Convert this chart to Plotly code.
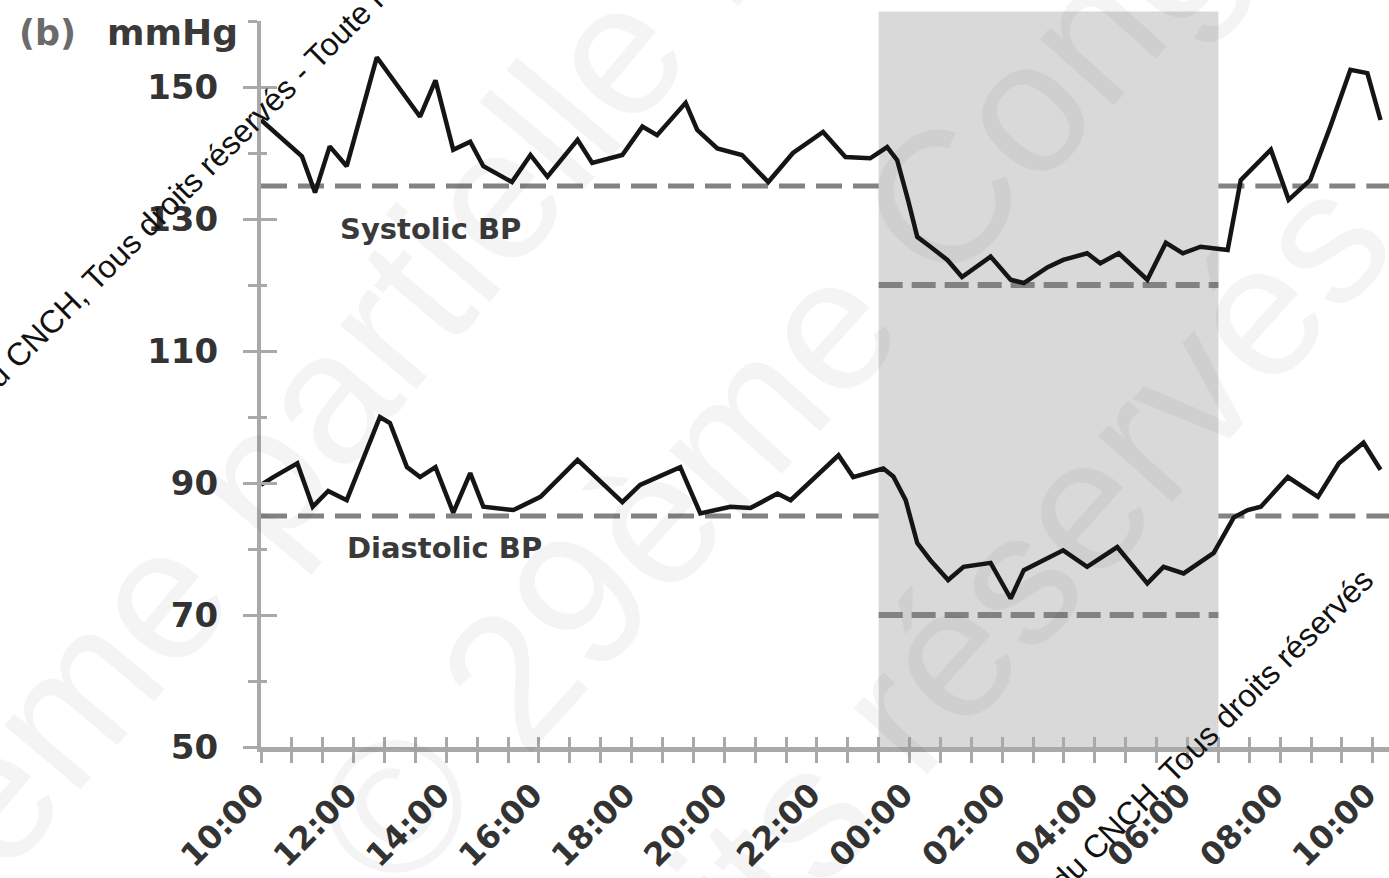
import plotly.graph_objects as go
from datetime import datetime, timedelta

# 24 h ambulatory blood pressure record, readings as clock time (HH:MM) and mmHg
sys_times = ["10:00", "10:29", "10:53", "11:10", "11:29", "11:51", "12:30", "13:26", "13:46",
             "14:09", "14:31", "14:48", "15:25", "15:49", "16:11", "16:50", "17:09", "17:48",
             "18:14", "18:33", "19:10", "19:25", "19:51", "20:23", "20:57", "21:29", "22:08",
             "22:37", "23:09", "23:31", "23:44", "23:58", "00:10", "00:27", "00:49", "01:08",
             "01:45", "02:11", "02:28", "02:59", "03:19", "03:50", "04:07", "04:31", "05:08",
             "05:32", "05:54", "06:17", "06:52", "07:09", "07:48", "08:11", "08:39", "09:05",
             "09:31", "09:53", "10:10"]
sys_values = [145.0, 142.0, 139.5, 134.0, 141.0, 138.0, 154.5, 145.5, 151.0,
              140.5, 141.7, 138.0, 135.6, 139.7, 136.4, 142.0, 138.5, 139.7,
              144.0, 142.7, 147.6, 143.5, 140.7, 139.7, 135.6, 140.0, 143.2,
              139.4, 139.2, 140.9, 138.9, 132.9, 127.3, 125.8, 123.8, 121.2,
              124.3, 120.8, 120.3, 122.7, 123.8, 124.8, 123.3, 124.8, 120.8,
              126.4, 124.8, 125.8, 125.3, 135.9, 140.5, 132.9, 135.9, 144.0,
              152.6, 152.1, 145.0]

dia_times = ["10:00", "10:16", "10:47", "11:07", "11:27", "11:51", "12:34", "12:47", "13:09",
             "13:26", "13:46", "14:09", "14:31", "14:48", "15:27", "16:02", "16:50", "17:48",
             "18:11", "19:03", "19:29", "20:08", "20:34", "21:09", "21:26", "22:28", "22:47",
             "23:26", "23:39", "23:55", "00:10", "00:27", "00:50", "01:10", "01:45", "02:11",
             "02:28", "03:19", "03:50", "04:29", "05:08", "05:29", "05:55", "06:34", "07:00",
             "07:18", "07:35", "08:10", "08:49", "09:16", "09:48", "10:10"]
dia_values = [89.7, 90.9, 93.0, 86.4, 88.8, 87.4, 100.0, 99.1, 92.4,
              90.9, 92.4, 85.5, 91.5, 86.4, 85.9, 87.9, 93.5, 87.1,
              89.7, 92.4, 85.4, 86.4, 86.2, 88.4, 87.4, 94.2, 90.9,
              92.2, 91.0, 87.4, 80.9, 78.3, 75.3, 77.3, 77.9, 72.5,
              76.8, 79.8, 77.3, 80.3, 74.8, 77.3, 76.3, 79.4, 84.8,
              85.9, 86.4, 90.9, 87.9, 93.0, 96.1, 92.0]

x_tick_labels = ["10:00", "12:00", "14:00", "16:00", "18:00", "20:00", "22:00",
                 "00:00", "02:00", "04:00", "06:00", "08:00", "10:00"]
y_tick_values = [50, 70, 90, 110, 130, 150]
y_minor_values = [60, 80, 100, 120, 140, 160]

night_period = ["23:20", "06:40"]
day_limits = {"Systolic BP": 135, "Diastolic BP": 85}
night_limits = {"Systolic BP": 120, "Diastolic BP": 70}

axis_end = "10:21"


def to_datetimes(times):
    """Clock strings -> datetimes on a record that starts at 10:00 and rolls past midnight."""
    out, day, prev = [], 0, None
    for s in times:
        h, m = map(int, s.split(":"))
        minutes = h * 60 + m
        if prev is not None and minutes < prev:
            day += 1
        prev = minutes
        out.append(datetime(2024, 1, 1, h, m) + timedelta(days=day))
    return out


sys_x = to_datetimes(sys_times)
dia_x = to_datetimes(dia_times)
tick_x = to_datetimes(x_tick_labels)
t_start = tick_x[0]
t_night0, t_night1 = to_datetimes(["10:00"] + night_period)[1:]
t_end = to_datetimes(["10:00", "22:00", axis_end])[2]

AXIS_GREY = "#a9a9a9"
DASH_GREY = "#828282"
TEXT = "#333333"
FONT = "DejaVu Sans"

fig = go.Figure()

# day / night threshold lines
for name in ("Systolic BP", "Diastolic BP"):
    for x0, x1 in ((t_start, t_night0), (t_night1, t_end)):
        fig.add_trace(go.Scatter(
            x=[x0, x1], y=[day_limits[name]] * 2, mode="lines",
            line=dict(color=DASH_GREY, width=5, dash="26px,11px"),
            hoverinfo="skip"))
    fig.add_trace(go.Scatter(
        x=[t_night0, t_night1], y=[night_limits[name]] * 2, mode="lines",
        line=dict(color=DASH_GREY, width=6, dash="24px,9px"),
        hoverinfo="skip"))

fig.add_trace(go.Scatter(x=sys_x, y=sys_values, mode="lines", name="Systolic BP",
                         line=dict(color="#151515", width=4.5)))
fig.add_trace(go.Scatter(x=dia_x, y=dia_values, mode="lines", name="Diastolic BP",
                         line=dict(color="#151515", width=4.5)))

# night-time band
fig.add_shape(type="rect", xref="x", yref="paper", x0=t_night0, x1=t_night1,
              y0=0, y1=1.013, fillcolor="#d9d9d9", line_width=0, layer="below")

tick_common = dict(tickcolor=AXIS_GREY, tickwidth=3, automargin=False)

fig.update_layout(
    width=1389, height=878,
    margin=dict(l=261, r=0, t=21, b=131, autoexpand=False),
    paper_bgcolor="white", plot_bgcolor="white",
    showlegend=False,
    xaxis=dict(
        type="date", range=[t_start, t_end],
        showline=True, linecolor=AXIS_GREY, linewidth=5,
        showgrid=False, zeroline=False,
        tickmode="array", tickvals=tick_x, ticktext=x_tick_labels,
        ticks="outside", ticklen=11, tickangle=-45, ticklabeloverflow="allow",
        ticklabelshift=-6,
        tickfont=dict(family=FONT, size=32, color=TEXT, weight="bold"),
        minor=dict(dtick=40 * 60 * 1000, tick0=t_start, ticks="outside",
                   ticklen=11, tickcolor=AXIS_GREY, tickwidth=3, showgrid=False),
        **tick_common),
    xaxis2=dict(
        type="date", range=[t_start, t_end], overlaying="x", anchor="y",
        showline=False, showgrid=False, zeroline=False, showticklabels=False,
        tickmode="array", tickvals=tick_x, ticks="inside", ticklen=10,
        minor=dict(dtick=40 * 60 * 1000, tick0=t_start, ticks="inside",
                   ticklen=10, tickcolor=AXIS_GREY, tickwidth=3, showgrid=False),
        **tick_common),
    yaxis=dict(
        range=[50, 160],
        showline=True, linecolor=AXIS_GREY, linewidth=4,
        showgrid=False, zeroline=False,
        tickmode="array", tickvals=y_tick_values,
        ticktext=[str(v) for v in y_tick_values],
        ticks="outside", ticklen=14, ticklabelstandoff=18, ticklabeloverflow="allow",
        tickfont=dict(family=FONT, size=34, color=TEXT, weight="bold"),
        minor=dict(tickmode="array", tickvals=y_minor_values, ticks="outside",
                   ticklen=9, tickcolor=AXIS_GREY, tickwidth=3, showgrid=False),
        **tick_common),
    yaxis2=dict(
        range=[50, 160], overlaying="y", anchor="x", side="left",
        showline=False, showgrid=False, zeroline=False, showticklabels=False,
        tickmode="array", tickvals=y_tick_values, ticks="inside", ticklen=16,
        minor=dict(tickmode="array", tickvals=y_minor_values, ticks="inside",
                   ticklen=6, tickcolor=AXIS_GREY, tickwidth=3, showgrid=False),
        **tick_common),
)

# invisible carrier so the overlay axes are drawn
fig.add_trace(go.Scatter(x=[t_start], y=[50], xaxis="x2", yaxis="y2", mode="markers",
                         marker=dict(opacity=0), hoverinfo="skip"))


def px(x):
    return (x - 261) / 1128


def py(y):
    return (747 - y) / 726


annotations = [
    dict(text="(b)", x=px(47), y=py(33), font=dict(family=FONT, size=35, color="#6b6b6b", weight="bold"),
         xanchor="center", yanchor="middle"),
    dict(text="mmHg", x=px(240), y=py(33), font=dict(family=FONT, size=36, color="#3a3a3a", weight="bold"),
         xanchor="right", yanchor="middle"),
    dict(text="Systolic BP", x=px(338), y=py(229), font=dict(family=FONT, size=29, color="#3a3a3a", weight="bold"),
         xanchor="left", yanchor="middle"),
    dict(text="Diastolic BP", x=px(345), y=py(548), font=dict(family=FONT, size=29, color="#3a3a3a", weight="bold"),
         xanchor="left", yanchor="middle"),
]

# large faint congress watermark
wm_big = dict(family="Liberation Sans", size=188, color="rgba(0,0,0,0.045)")
for text, cx, cy, ang in (("Reproduction même partielle interdite", 106, 658, -50),
                          ("© 29ème Congrès", 860, 290, -48),
                          ("Tous droits réservés", 790, 830, -48)):
    annotations.append(dict(text=text, x=px(cx), y=py(cy), textangle=ang, font=wm_big,
                            xanchor="center", yanchor="middle"))

# copyright notice
notice_font = dict(family="Liberation Sans", size=32, color="#111111")
for text, cx, cy in (("Propriété des auteurs du CNCH, Tous droits réservés - Toute reproduction interdite", 170, 203),
                     ("Propriété des auteurs du CNCH, Tous droits réservés", 1100, 842)):
    annotations.append(dict(text=text, x=px(cx), y=py(cy), textangle=-45, font=notice_font,
                            xanchor="center", yanchor="middle"))

for a in annotations:
    a.update(xref="paper", yref="paper", showarrow=False)
fig.update_layout(annotations=annotations)

fig.write_html("out.html")
